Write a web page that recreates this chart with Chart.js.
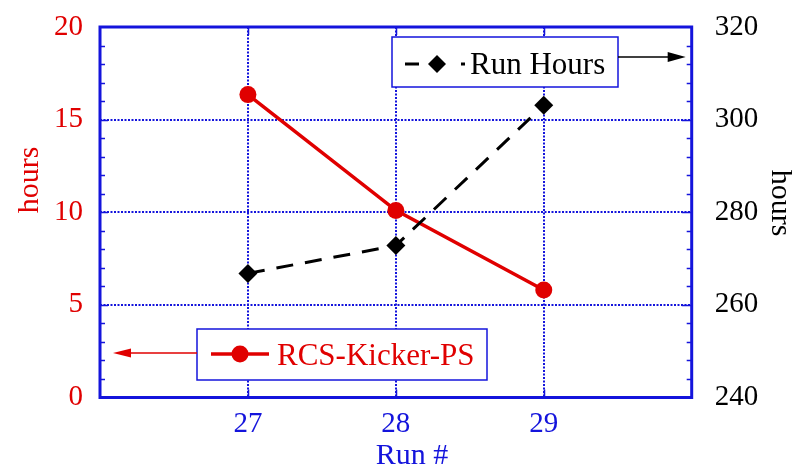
<!DOCTYPE html>
<html>
<head>
<meta charset="utf-8">
<script src="https://cdn.jsdelivr.net/npm/chart.js@4/dist/chart.umd.min.js"></script>
<style>
  html, body { margin: 0; padding: 0; background: #ffffff; }
  #wrap { width: 808px; height: 470px; }
</style>
</head>
<body>
<div id="wrap"><canvas id="c" width="808" height="470"></canvas></div>
<script>
// Run numbers and the two measured series
const runs = [27, 28, 29];
const kickerHours = [16.35, 10.1, 5.8];     // RCS-Kicker-PS downtime, left axis
const runHours = [266.8, 272.8, 303.1];     // total run hours, right axis

// Axis ranges and tick values
const runRange = [26, 30];
const runTicks = [27, 28, 29];
const leftRange = [0, 20];
const leftStep = 5;
const rightRange = [240, 320];
const rightStep = 20;

// Text
const seriesNames = ['RCS-Kicker-PS', 'Run Hours'];
const leftTitle = 'hours';
const rightTitle = 'hours';
const bottomTitle = 'Run #';

const RED = '#e00000';
const BLUE = '#1414dc';
const BLACK = '#000000';
const SERIF = "'Liberation Serif', 'Times New Roman', serif";

// Frame, inner tick marks, axis titles and the two boxed legends with pointer arrows
const decorations = {
  id: 'decorations',
  afterDraw(chart) {
    const ctx = chart.ctx;
    const ca = chart.chartArea;
    const x = chart.scales.x, yl = chart.scales.y, yr = chart.scales.y1;
    ctx.save();

    // inner tick marks
    ctx.strokeStyle = BLUE;
    ctx.lineWidth = 1.5;
    ctx.setLineDash([]);
    ctx.beginPath();
    for (let v = leftRange[0] + 1; v < leftRange[1]; v++) {
      const py = Math.round(yl.getPixelForValue(v)) + 0.5;
      const len = v % leftStep === 0 ? 8 : 5;
      ctx.moveTo(ca.left, py); ctx.lineTo(ca.left + len, py);
    }
    for (let v = rightRange[0] + 4; v < rightRange[1]; v += 4) {
      const py = Math.round(yr.getPixelForValue(v)) + 0.5;
      const len = v % rightStep === 0 ? 10 : 5;
      ctx.moveTo(ca.right, py); ctx.lineTo(ca.right - len, py);
    }
    runTicks.forEach(v => {
      const px = Math.round(x.getPixelForValue(v)) + 0.5;
      ctx.moveTo(px, ca.bottom); ctx.lineTo(px, ca.bottom - 8);
      ctx.moveTo(px, ca.top); ctx.lineTo(px, ca.top + 8);
    });
    ctx.stroke();

    // frame
    ctx.lineWidth = 3;
    ctx.strokeRect(ca.left, ca.top, ca.right - ca.left, ca.bottom - ca.top);

    // axis titles
    ctx.font = '30px ' + SERIF;
    ctx.textAlign = 'center';
    ctx.textBaseline = 'middle';
    ctx.fillStyle = RED;
    ctx.save();
    ctx.translate(30, ca.top + 153);
    ctx.rotate(-Math.PI / 2);
    ctx.fillText(leftTitle, 0, 0);
    ctx.restore();
    ctx.fillStyle = BLACK;
    ctx.save();
    ctx.translate(780, ca.top + 176);
    ctx.rotate(Math.PI / 2);
    ctx.fillText(rightTitle, 0, 0);
    ctx.restore();
    ctx.fillStyle = BLUE;
    ctx.fillText(bottomTitle, 412, 456);

    // legend: Run Hours (points to the right axis)
    const bx = 392, by = ca.top + 10, bw = 226, bh = 50;
    ctx.fillStyle = '#ffffff';
    ctx.fillRect(bx, by, bw, bh);
    ctx.strokeStyle = BLUE;
    ctx.lineWidth = 1.5;
    ctx.strokeRect(bx, by, bw, bh);
    const ly = by + 27;
    ctx.strokeStyle = BLACK;
    ctx.lineWidth = 3;
    ctx.setLineDash([14, 42]);
    ctx.beginPath(); ctx.moveTo(bx + 13, ly); ctx.lineTo(bx + 73, ly); ctx.stroke();
    ctx.setLineDash([]);
    ctx.fillStyle = BLACK;
    const dx = bx + 45, dr = 9;
    ctx.beginPath();
    ctx.moveTo(dx, ly - dr); ctx.lineTo(dx + dr, ly); ctx.lineTo(dx, ly + dr); ctx.lineTo(dx - dr, ly);
    ctx.closePath(); ctx.fill();
    ctx.font = '31px ' + SERIF;
    ctx.textAlign = 'left';
    ctx.textBaseline = 'alphabetic';
    ctx.fillText(seriesNames[1], bx + 78, by + 37);
    // arrow to the right axis
    const ay1 = by + 20;
    ctx.lineWidth = 1.5;
    ctx.beginPath(); ctx.moveTo(bx + bw, ay1); ctx.lineTo(ca.right - 18, ay1); ctx.stroke();
    ctx.beginPath();
    ctx.moveTo(ca.right - 6, ay1); ctx.lineTo(ca.right - 24, ay1 - 5); ctx.lineTo(ca.right - 24, ay1 + 5);
    ctx.closePath(); ctx.fill();

    // legend: RCS-Kicker-PS (points to the left axis)
    const cx = 197, cy = 329, cw = 290, ch = 51;
    ctx.fillStyle = '#ffffff';
    ctx.fillRect(cx, cy, cw, ch);
    ctx.strokeStyle = BLUE;
    ctx.lineWidth = 1.5;
    ctx.strokeRect(cx, cy, cw, ch);
    const ry = cy + 25;
    ctx.strokeStyle = RED;
    ctx.fillStyle = RED;
    ctx.lineWidth = 3.5;
    ctx.beginPath(); ctx.moveTo(cx + 14, ry); ctx.lineTo(cx + 72, ry); ctx.stroke();
    ctx.beginPath(); ctx.arc(cx + 43, ry, 8.5, 0, Math.PI * 2); ctx.fill();
    ctx.font = '31px ' + SERIF;
    ctx.fillText(seriesNames[0], cx + 80, cy + 36);
    // arrow to the left axis
    const ay2 = cy + 24;
    ctx.lineWidth = 1.5;
    ctx.beginPath(); ctx.moveTo(cx, ay2); ctx.lineTo(ca.left + 25, ay2); ctx.stroke();
    ctx.beginPath();
    ctx.moveTo(ca.left + 13, ay2); ctx.lineTo(ca.left + 31, ay2 - 4.5); ctx.lineTo(ca.left + 31, ay2 + 4.5);
    ctx.closePath(); ctx.fill();

    ctx.restore();
  }
};

const dottedGrid = { color: BLUE, lineWidth: 2, drawTicks: false };

// fixed axis box sizes; labels may overhang the plot edges
const fixVertical = w => s => { s.width = w; s.paddingTop = 0; s.paddingBottom = 0; };

new Chart(document.getElementById('c'), {
  type: 'line',
  data: {
    datasets: [
      {
        label: seriesNames[0],
        data: runs.map((r, i) => ({ x: r, y: kickerHours[i] })),
        yAxisID: 'y',
        borderColor: RED,
        backgroundColor: RED,
        borderWidth: 3.5,
        pointStyle: 'circle',
        pointRadius: 8.5,
        pointBorderWidth: 0,
        tension: 0,
        order: 1
      },
      {
        label: seriesNames[1],
        data: runs.map((r, i) => ({ x: r, y: runHours[i] })),
        yAxisID: 'y1',
        borderColor: BLACK,
        backgroundColor: BLACK,
        borderWidth: 3,
        borderDash: [17, 12],
        pointStyle: 'rectRot',
        pointRadius: 9.5,
        pointBorderWidth: 0,
        tension: 0,
        order: 0
      }
    ]
  },
  options: {
    responsive: false,
    animation: false,
    devicePixelRatio: 1,
    layout: { padding: { top: 27, left: 0, right: 0, bottom: 0 } },
    plugins: { legend: { display: false }, tooltip: { enabled: false } },
    scales: {
      x: {
        type: 'linear',
        position: 'bottom',
        min: runRange[0],
        max: runRange[1],
        afterBuildTicks: s => { s.ticks = runTicks.map(v => ({ value: v })); },
        afterFit: s => { s.height = 72.5; s.paddingLeft = 0; s.paddingRight = 0; },
        ticks: { color: BLUE, font: { family: SERIF, size: 29 }, padding: 9, callback: v => String(v) },
        grid: dottedGrid,
        border: { display: false, dash: [2, 1.5] }
      },
      y: {
        type: 'linear',
        position: 'left',
        min: leftRange[0],
        max: leftRange[1],
        ticks: { stepSize: leftStep, color: RED, font: { family: SERIF, size: 29 }, padding: 17 },
        afterFit: fixVertical(100),
        grid: dottedGrid,
        border: { display: false, dash: [2, 1.5] }
      },
      y1: {
        type: 'linear',
        position: 'right',
        min: rightRange[0],
        max: rightRange[1],
        ticks: { stepSize: rightStep, color: BLACK, font: { family: SERIF, size: 29 }, padding: 15 },
        afterFit: fixVertical(116.3),
        grid: { display: false },
        border: { display: false }
      }
    }
  },
  plugins: [decorations]
});
</script>
</body>
</html>
